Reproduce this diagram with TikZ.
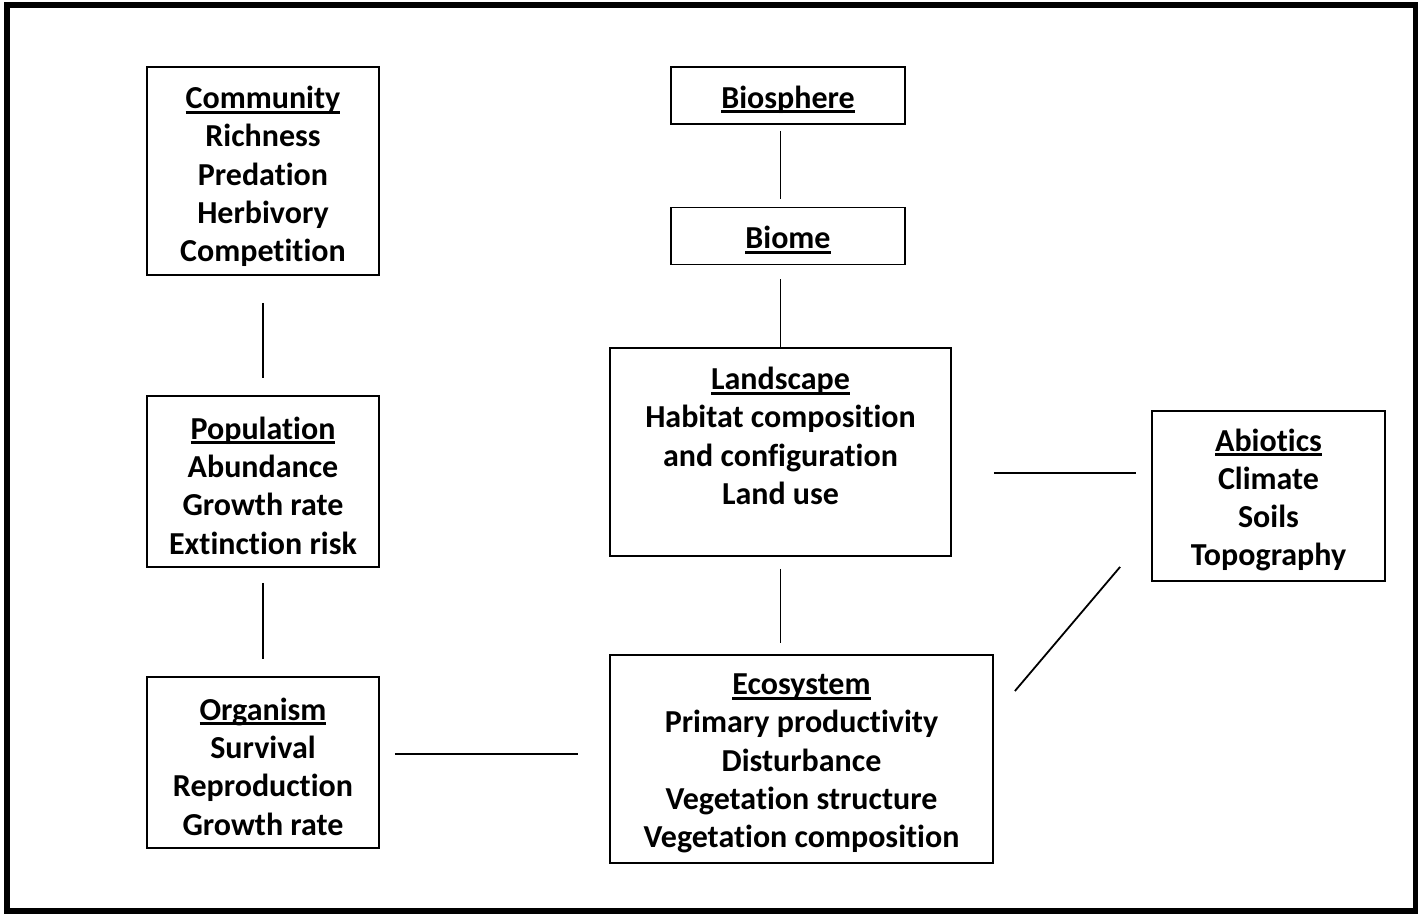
\documentclass[tikz,border=0pt]{standalone}
\usepackage{fontspec}
\setmainfont{Carlito}[Ligatures=NoCommon]
\usetikzlibrary{calc}
% underlined heading with a fixed rule below the baseline
\newcommand{\headline}[1]{\setbox0\hbox{#1}\rlap{\rule[-5pt]{\wd0}{2.8pt}}\box0}
\tikzset{
  box/.style={draw, line width=1.8pt, rectangle, inner sep=0pt},
  txt/.style={inner sep=0pt, align=center,
    font=\bfseries\fontsize{32}{38.3}\selectfont},
  link/.style={line width=1.8pt},
  frame/.style={line width=5.5pt}
}
\begin{document}
\begin{tikzpicture}[x=1pt, y=-1pt]
  \useasboundingbox (0,0) rectangle (1422,916);
  \draw[frame] (7,5) rectangle (1415.5,911);

  % left column: community, population, organism
  \node[box, minimum width=232pt, minimum height=208pt] (community) at (263,171) {};
  \node[txt] (communitytext) at ([yshift=-5.5pt]community.center)
    {\headline{Community}\\Richness\\Predation\\Herbivory\\Competition};
  \node[box, minimum width=232pt, minimum height=171pt] (population) at (263,481.5) {};
  \node[txt] (populationtext) at ([yshift=-4pt]population.center)
    {\headline{Population}\\Abundance\\Growth rate\\Extinction risk};
  \node[box, minimum width=232pt, minimum height=171pt] (organism) at (263,762.5) {};
  \node[txt] (organismtext) at ([yshift=-4pt]organism.center)
    {\headline{Organism}\\Survival\\Reproduction\\Growth rate};

  % central column: biosphere down to ecosystem
  \node[box, minimum width=234pt, minimum height=57pt] (biosphere) at (788,95.5) {};
  \node[txt] (biospheretext) at ([yshift=-4pt]biosphere.center) {\headline{Biosphere}};
  \node[box, minimum width=234pt, minimum height=57pt] (biome) at (788,236) {};
  \node[txt] (biometext) at ([yshift=-4pt]biome.center) {\headline{Biome}};
  \node[box, minimum width=341pt, minimum height=208pt] (landscape) at (780.5,452) {};
  \node[txt, anchor=north] (landscapetext) at (780.5,367)
    {\headline{Landscape}\\Habitat composition\\and configuration\\Land use};
  \node[box, minimum width=383pt, minimum height=208pt] (ecosystem) at (801.5,759) {};
  \node[txt] (ecosystemtext) at ([yshift=-4.5pt]ecosystem.center)
    {\headline{Ecosystem}\\Primary productivity\\Disturbance\\Vegetation structure\\Vegetation composition};

  % right column
  \node[box, minimum width=233pt, minimum height=170pt] (abiotics) at (1268.5,496) {};
  \node[txt] (abioticstext) at ([yshift=-4pt]abiotics.center)
    {\headline{Abiotics}\\Climate\\Soils\\Topography};

  % connectors
  \draw[link, shorten <=27pt, shorten >=17pt] (community.south) -- (population.north);
  \draw[link, shorten <=15pt, shorten >=17pt] (population.south) -- (organism.north);
  \draw[link, shorten <=6pt, shorten >=8pt]
    (landscape.north |- biosphere.south) -- (landscape.north |- biome.north);
  \draw[link, shorten <=14pt]
    (landscape.north |- biome.south) -- (landscape.north);
  \draw[link, shorten <=12pt, shorten >=11pt]
    (landscape.south) -- (landscape.south |- ecosystem.north);
  \draw[link, shorten <=42pt, shorten >=15pt]
    ([yshift=-21pt]landscape.east) -- ([yshift=-21pt]landscape.east -| abiotics.west);
  \draw[link, shorten <=15pt, shorten >=31pt]
    ([yshift=8.5pt]organism.east) -- ([yshift=8.5pt]organism.east -| ecosystem.west);
  \draw[link] ([shift={(21pt,68pt)}]ecosystem.east) -- ([shift={(-31pt,15pt)}]abiotics.south west);
\end{tikzpicture}
\end{document}
